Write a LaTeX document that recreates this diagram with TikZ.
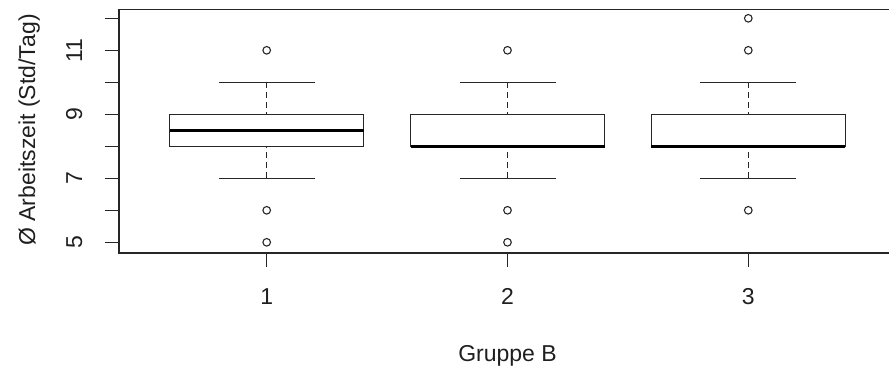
\documentclass[tikz,border=0pt]{standalone}
\usepackage{fontspec}
\setmainfont{Liberation Sans}
\begin{document}
\begin{tikzpicture}[x=1pt,y=1pt,
  lab/.style={font=\fontsize{23}{26}\selectfont, inner sep=0pt, text=black!88},
  thin/.style={line width=1.3pt, black!85},
  med/.style={line width=3.6pt, black, line cap=butt},
  whisk/.style={line width=1.4pt, black!85, dash pattern=on 6pt off 4pt},
  outl/.style={line width=1.1pt, black!85}]
\useasboundingbox (0,0) rectangle (889,368);
\clip (0,0) rectangle (889,368);
% frame
\draw[thin] (900,358.7) -- (119,358.7) -- (119,115) -- (900,115);
\begin{scope}[y=32pt, yshift=-34.3pt]
  % y ticks
  \foreach \v in {5,...,12} \draw[thin] (105,\v) -- (119,\v);
  \foreach \v in {5,7,9,11} \node[lab, rotate=90, anchor=base] at (82,\v) {\v};
  % groups
  \foreach \g/\x/\m in {1/266.7/8.5, 2/507.5/8, 3/748.3/8} {
    \draw[whisk] (\x,10) -- (\x,9);
    \draw[whisk] (\x,7) -- (\x,8);
    \draw[thin] (\x-48,10) -- (\x+48,10);
    \draw[thin] (\x-48,7) -- (\x+48,7);
    \draw[thin, fill=white] (\x-97,8) rectangle (\x+97,9);
    \draw[med] (\x-97,\m) -- (\x+97,\m);
  }
  % outliers
  \foreach \x/\v in {266.7/11, 266.7/6, 266.7/5, 507.5/11, 507.5/6, 507.5/5, 748.3/12, 748.3/11, 748.3/6}
    \draw[outl] (\x,\v) circle[radius=3.8pt];
\end{scope}
% x ticks and labels
\foreach \x/\t in {266.7/1, 507.5/2, 748.3/3} {
  \draw[thin] (\x,115) -- (\x,101.3);
  \node[lab, anchor=base] at (\x,63.7) {\t};
}
\node[lab, anchor=base] (xl) at (507.5,6.3) {Gruppe B};
\node[lab, rotate=90, anchor=base] (yl) at (35,238) {Ø Arbeitszeit (Std/Tag)};
\end{tikzpicture}
\end{document}
